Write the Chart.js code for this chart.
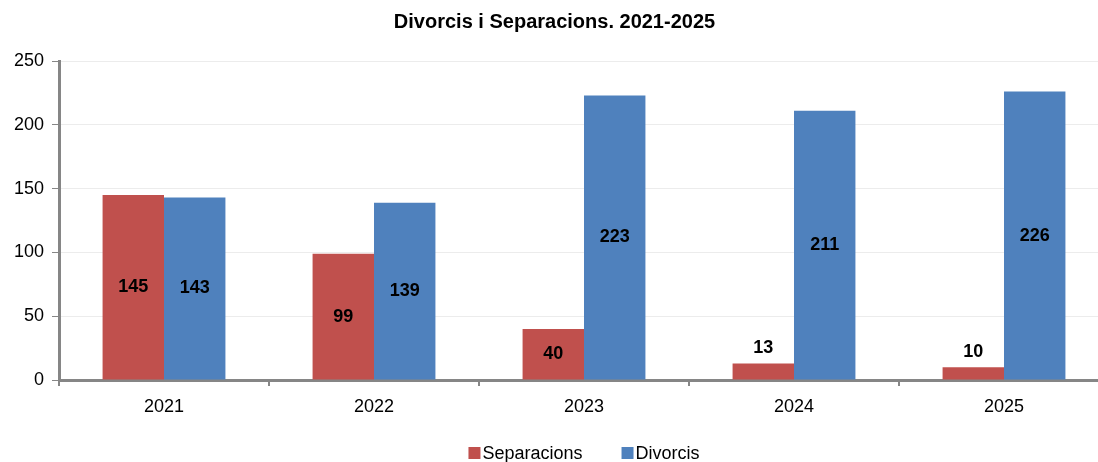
<!DOCTYPE html>
<html>
<head>
<meta charset="utf-8">
<script src="https://cdn.jsdelivr.net/npm/chart.js@4.4.1/dist/chart.umd.min.js"></script>
<style>
html,body{margin:0;padding:0;background:#fff;overflow:hidden;width:1098px;height:462px}
#wrap{width:1120px;height:462px;position:relative}
</style>
</head>
<body>
<div id="wrap"><canvas id="c" width="1120" height="462"></canvas></div>
<script>
const categories = ['2021','2022','2023','2024','2025'];
const separacions = [145, 99, 40, 13, 10];
const divorcis = [143, 139, 223, 211, 226];
const seriesNames = ['Separacions','Divorcis'];
const titleText = 'Divorcis i Separacions. 2021-2025';

const FONT = "'Liberation Sans', Arial, sans-serif";

const labelPlugin = {
  id: 'valueLabels',
  afterDatasetsDraw(chart) {
    const ctx = chart.ctx;
    ctx.save();
    ctx.font = 'bold 18px ' + FONT;
    ctx.fillStyle = '#000';
    ctx.textAlign = 'center';
    ctx.textBaseline = 'middle';
    chart.data.datasets.forEach((ds, di) => {
      const meta = chart.getDatasetMeta(di);
      meta.data.forEach((bar, i) => {
        const v = ds.data[i];
        const h = bar.base - bar.y;
        const y = h > 30 ? bar.y + h / 2 : bar.y - 15;
        ctx.fillText(String(v), bar.x, y);
      });
    });
    ctx.restore();
  }
};

const legendPlugin = {
  id: 'customLegend',
  afterDraw(chart) {
    const ctx = chart.ctx;
    const area = chart.chartArea;
    ctx.save();
    ctx.font = '18px ' + FONT;
    ctx.textBaseline = 'middle';
    ctx.textAlign = 'left';
    const box = 12, gapText = 2, gapItem = 39;
    const items = chart.data.datasets.map(ds => ({ text: ds.label, color: ds.backgroundColor, w: ctx.measureText(ds.label).width }));
    let total = 0;
    items.forEach((it, i) => { total += box + gapText + it.w + (i < items.length - 1 ? gapItem : 0); });
    let x = (area.left + area.right) / 2 - total / 2;
    const y = 453;
    items.forEach(it => {
      ctx.fillStyle = it.color;
      ctx.fillRect(x, y - 6, box, box);
      ctx.fillStyle = '#000';
      ctx.fillText(it.text, x + box + gapText, y + 1);
      x += box + gapText + it.w + gapItem;
    });
    ctx.restore();
  }
};

new Chart(document.getElementById('c'), {
  type: 'bar',
  data: {
    labels: categories,
    datasets: [
      { label: seriesNames[0], data: separacions, backgroundColor: '#C0504D', borderWidth: 0 },
      { label: seriesNames[1], data: divorcis, backgroundColor: '#4F81BD', borderWidth: 0 }
    ]
  },
  options: {
    responsive: false,
    animation: false,
    devicePixelRatio: 1,
    layout: { padding: { left: 0, right: 11, top: 0, bottom: 0 } },
    datasets: { bar: { categoryPercentage: 0.585, barPercentage: 1.0 } },
    plugins: {
      title: {
        display: true,
        text: titleText,
        color: '#000',
        font: { family: FONT, size: 20, weight: 'bold' },
        padding: { top: 10, bottom: 27 }
      },
      legend: { display: false },
      tooltip: { enabled: false }
    },
    scales: {
      x: {
        grid: { display: true, drawOnChartArea: false, drawTicks: true, tickLength: 6, color: '#868686', lineWidth: 2, offset: true },
        border: { display: true, color: '#868686', width: 3 },
        ticks: { color: '#000', font: { family: FONT, size: 18 }, padding: 10 },
        afterFit(scale) { scale.height = 82; }
      },
      y: {
        min: 0, max: 250,
        ticks: { stepSize: 50, color: '#000', font: { family: FONT, size: 18 }, padding: 8 },
        grid: { color: '#ececec', lineWidth: 1, tickColor: '#868686', tickLength: 7, drawTicks: true },
        border: { display: true, color: '#868686', width: 3 },
        afterFit(scale) { scale.width = 59; }
      }
    }
  },
  plugins: [labelPlugin, legendPlugin]
});
</script>
</body>
</html>
